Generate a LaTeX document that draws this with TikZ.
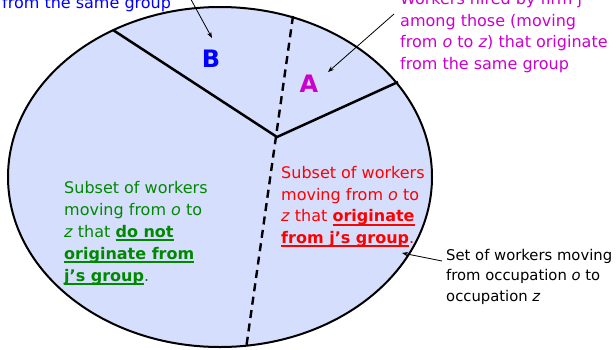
\documentclass[tikz,border=0pt]{standalone}
\usepackage{fontspec}
\setmainfont{DejaVu Sans}
\usetikzlibrary{arrows.meta, positioning}
\definecolor{setFill}{HTML}{D6DEFD}
\definecolor{groupBlue}{HTML}{0000FF}
\definecolor{groupMagenta}{HTML}{CC00CC}
\definecolor{groupGreen}{HTML}{008800}
\definecolor{groupRed}{HTML}{FF0000}
\newcommand{\boldul}[1]{\setbox0\hbox{\textbf{#1}}\leavevmode\rlap{\vrule width\wd0 height -2pt depth 4pt}\box0}

\begin{document}
\begin{tikzpicture}[
    x=1pt, y=-1pt,
    setline/.style={draw=black, line width=2pt, fill=setFill},
    cutline/.style={black, line width=2.5pt},
    splitline/.style={black, line width=2.4pt, dash pattern=on 8pt off 5.5pt},
    note/.style={anchor=north west, align=left, inner sep=0pt, font=\fontsize{16}{21.7}\selectfont},
    smallnote/.style={note, font=\fontsize{14.8}{20.5}\selectfont},
    letter/.style={inner sep=0pt, font=\fontsize{24}{24}\selectfont\bfseries},
    pointer/.style={-{Stealth[length=6pt, width=4.5pt]}, line width=0.8pt},
  ]
  \useasboundingbox (0,0) rectangle (616,349);

  \draw[setline] (220,177) ellipse [x radius=212pt, y radius=170pt];

  \coordinate (hub) at (277,137);
  \coordinate (edgeB) at (113,30);
  \coordinate (edgeA) at (398,82);
  \coordinate (splitTop) at (293,16);
  \coordinate (splitBottom) at (246,349);
  \draw[cutline] (edgeB) -- (hub) -- (edgeA);
  \draw[splitline] (splitTop) -- (splitBottom);

  \node[letter, text=groupBlue] (labelB) at (211,59) {B};
  \node[letter, text=groupMagenta] (labelA) at (309,84) {A};

  \node[note, text=groupBlue] (noteB) at (2,-4) {from the same group};
  \node[note, text=groupMagenta] (noteA) at (400,-8) {Workers hired by firm j\\among those (moving\\from \textit{o} to \textit{z}) that originate\\from the same group};
  \node[note, text=groupGreen, font=\fontsize{16}{22}\selectfont] (noteOther) at (64,181) {Subset of workers\\moving from \textit{o} to\\\textit{z} that \boldul{do not}\\\boldul{originate from}\\\boldul{j’s group}.};
  \node[note, text=groupRed] (noteSame) at (281,166) {Subset of workers\\moving from \textit{o} to\\\textit{z} that \boldul{originate}\\\boldul{from j’s group}.};
  \node[smallnote] (noteSet) at (446,249) {Set of workers moving\\from occupation \textit{o} to\\occupation \textit{z}};

  \coordinate (fromB) at (188,-6);
  \coordinate (tipB) at (212,38);
  \coordinate (fromA) at (394,14);
  \coordinate (tipA) at (328,72);
  \coordinate (fromSet) at (442,261);
  \coordinate (tipSet) at (402,253);
  \draw[pointer] (fromB) -- (tipB);
  \draw[pointer] (fromA) -- (tipA);
  \draw[pointer] (fromSet) -- (tipSet);
\end{tikzpicture}
\end{document}
